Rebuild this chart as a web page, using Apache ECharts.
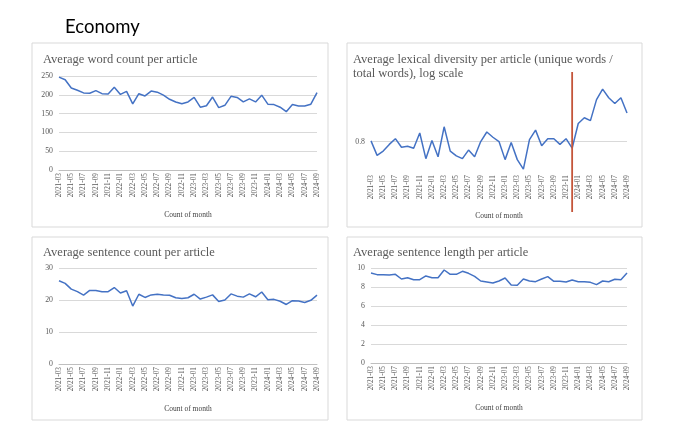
<!DOCTYPE html>
<html lang="en" style="height: 100%">

<head>
  <meta charset="utf-8" />
</head>

<body style="height: 100%; margin: 0; background: #fff">
  <div id="container" style="width: 680px; height: 446px"></div>

  <script type="text/javascript" src="https://fastly.jsdelivr.net/npm/echarts@6.0.0/dist/echarts.min.js"></script>

  <script type="text/javascript">
    // monthly categories, 2021-03 .. 2024-09
    var months = [
      "2021-03", "2021-04", "2021-05", "2021-06", "2021-07", "2021-08", "2021-09", "2021-10", "2021-11", "2021-12",
      "2022-01", "2022-02", "2022-03", "2022-04", "2022-05", "2022-06", "2022-07", "2022-08", "2022-09", "2022-10", "2022-11", "2022-12",
      "2023-01", "2023-02", "2023-03", "2023-04", "2023-05", "2023-06", "2023-07", "2023-08", "2023-09", "2023-10", "2023-11", "2023-12",
      "2024-01", "2024-02", "2024-03", "2024-04", "2024-05", "2024-06", "2024-07", "2024-08", "2024-09"
    ];

    var wordCount = [
      247, 240, 218, 212, 205, 204, 211, 203, 202, 220,
      201, 209, 176, 203, 197, 210, 207, 199, 188, 181, 176, 181,
      193, 167, 171, 194, 166, 172, 196, 193, 181, 189, 181, 199,
      175, 174, 167, 155, 174, 170, 170, 175, 206
    ];

    var lexicalDiversity = [
      0.8007, 0.7855, 0.790, 0.797, 0.803, 0.794, 0.795, 0.793, 0.809, 0.782,
      0.801, 0.784, 0.8155, 0.790, 0.785, 0.782, 0.791, 0.784, 0.800, 0.810, 0.8045, 0.800,
      0.781, 0.799, 0.781, 0.771, 0.802, 0.812, 0.7955, 0.803, 0.803, 0.797, 0.803, 0.793,
      0.819, 0.825, 0.822, 0.844, 0.855, 0.846, 0.840, 0.846, 0.830
    ];

    var sentenceCount = [
      26.0, 25.2, 23.4, 22.6, 21.5, 23.0, 23.0, 22.6, 22.6, 23.9,
      22.2, 22.9, 18.1, 21.8, 20.8, 21.6, 21.8, 21.6, 21.5, 20.7, 20.5, 20.7,
      21.8, 20.3, 20.9, 21.6, 19.5, 20.0, 21.9, 21.2, 20.9, 21.9, 21.0, 22.5,
      20.1, 20.2, 19.6, 18.6, 19.8, 19.7, 19.2, 19.9, 21.5
    ];

    var sentenceLength = [
      9.47, 9.30, 9.30, 9.27, 9.33, 8.84, 8.98, 8.77, 8.77, 9.16,
      8.98, 8.98, 9.79, 9.33, 9.33, 9.65, 9.44, 9.12, 8.63, 8.53, 8.42, 8.63,
      8.95, 8.21, 8.18, 8.84, 8.63, 8.56, 8.84, 9.09, 8.60, 8.60, 8.53, 8.74,
      8.56, 8.56, 8.49, 8.25, 8.63, 8.56, 8.81, 8.77, 9.47
    ];

    var panelTitles = [
      "Average word count per article",
      "Average lexical diversity per article (unique words /\ntotal words), log scale",
      "Average sentence count per article",
      "Average sentence length per article"
    ];

    var markerMonth = "2023-12";

    var serif = "Liberation Serif";
    var textGrey = "#595959";
    var gridGrey = "#d9d9d9";
    var lineBlue = "#4472c4";

    var dom = document.getElementById("container");
    var myChart = echarts.init(dom, null, { renderer: "canvas" });

    var grids = [
      { left: 59, top: 76, width: 258, height: 94 },
      { left: 371, top: 73, width: 256, height: 99 },
      { left: 59, top: 268, width: 258, height: 96 },
      { left: 371, top: 268, width: 256, height: 95 }
    ];

    function xAxisFor(i, showLine) {
      return {
        type: "category",
        gridIndex: i,
        data: months,
        boundaryGap: false,
        axisLine: { show: showLine, lineStyle: { color: "#bfbfbf", width: 1 } },
        axisTick: { show: false },
        axisLabel: {
          rotate: 90,
          interval: 1,
          margin: 3,
          fontFamily: serif,
          fontSize: 7.3,
          color: textGrey
        },
        name: "Count of month",
        nameLocation: "middle",
        nameGap: i === 1 ? 40 : 41,
        nameTextStyle: { fontFamily: serif, fontSize: 7.5, color: "#404040" }
      };
    }

    var yLabel = { fontFamily: serif, fontSize: 7.8, color: textGrey, margin: 6 };
    var splitLine = { show: true, lineStyle: { color: gridGrey, width: 1 } };

    // lexical diversity axis: only the 0.8 line and label are shown
    var lexColors = [];
    for (var k = 0; k < 14; k++) lexColors.push(k === 4 ? gridGrey : "rgba(0,0,0,0)");

    function lineSeries(i, data) {
      return {
        type: "line",
        xAxisIndex: i,
        yAxisIndex: i,
        data: data,
        showSymbol: false,
        symbol: "none",
        lineStyle: { color: lineBlue, width: 1.5 },
        itemStyle: { color: lineBlue }
      };
    }

    var titleStyle = { fontFamily: serif, fontSize: 12.5, fontWeight: "normal", color: textGrey, lineHeight: 13.5 };

    var option = {
      animation: false,
      title: [
        { text: "Economy", left: 60, top: 13, textStyle: { fontFamily: "Lato", fontSize: 18.5, fontWeight: "normal", color: "#000" } },
        { text: panelTitles[0], left: 38, top: 48, textStyle: titleStyle },
        { text: panelTitles[1], left: 348, top: 48, textStyle: titleStyle },
        { text: panelTitles[2], left: 38, top: 241, textStyle: titleStyle },
        { text: panelTitles[3], left: 348, top: 241, textStyle: titleStyle }
      ],
      grid: grids,
      xAxis: [xAxisFor(0, true), xAxisFor(1, false), xAxisFor(2, true), xAxisFor(3, true)],
      yAxis: [
        { type: "value", gridIndex: 0, min: 0, max: 250, interval: 50, axisLabel: yLabel, splitLine: splitLine },
        {
          type: "value", gridIndex: 1, min: 0.768, max: 0.872, interval: 0.008,
          axisLabel: Object.assign({}, yLabel, {
            formatter: function (v) { return Math.abs(v - 0.8) < 1e-6 ? "0.8" : ""; }
          }),
          splitLine: { show: true, lineStyle: { color: lexColors, width: 1 } }
        },
        { type: "value", gridIndex: 2, min: 0, max: 30, interval: 10, axisLabel: yLabel, splitLine: splitLine },
        { type: "value", gridIndex: 3, min: 0, max: 10, interval: 2, axisLabel: yLabel, splitLine: splitLine }
      ],
      series: [
        lineSeries(0, wordCount),
        lineSeries(1, lexicalDiversity),
        lineSeries(2, sentenceCount),
        lineSeries(3, sentenceLength)
      ],
      graphic: [
        { type: "rect", id: "box0", shape: { x: 32, y: 43, width: 296, height: 184 }, style: { fill: null, stroke: gridGrey, lineWidth: 1 }, silent: true },
        { type: "rect", id: "box1", shape: { x: 347, y: 43, width: 295, height: 184 }, style: { fill: null, stroke: gridGrey, lineWidth: 1 }, silent: true },
        { type: "rect", id: "box2", shape: { x: 32, y: 237, width: 296, height: 183 }, style: { fill: null, stroke: gridGrey, lineWidth: 1 }, silent: true },
        { type: "rect", id: "box3", shape: { x: 347, y: 237, width: 295, height: 183 }, style: { fill: null, stroke: gridGrey, lineWidth: 1 }, silent: true }
      ]
    };

    myChart.setOption(option);

    // red marker line through the lexical diversity panel at 2023-12
    var mx = myChart.convertToPixel({ xAxisIndex: 1 }, markerMonth);
    myChart.setOption({
      graphic: [
        {
          type: "line", id: "marker",
          shape: { x1: mx, y1: 72, x2: mx, y2: 212 },
          style: { stroke: "#c4553a", lineWidth: 1.8 },
          z: 100, silent: true
        }
      ]
    });

    window.addEventListener("resize", myChart.resize);
  </script>
</body>

</html>
